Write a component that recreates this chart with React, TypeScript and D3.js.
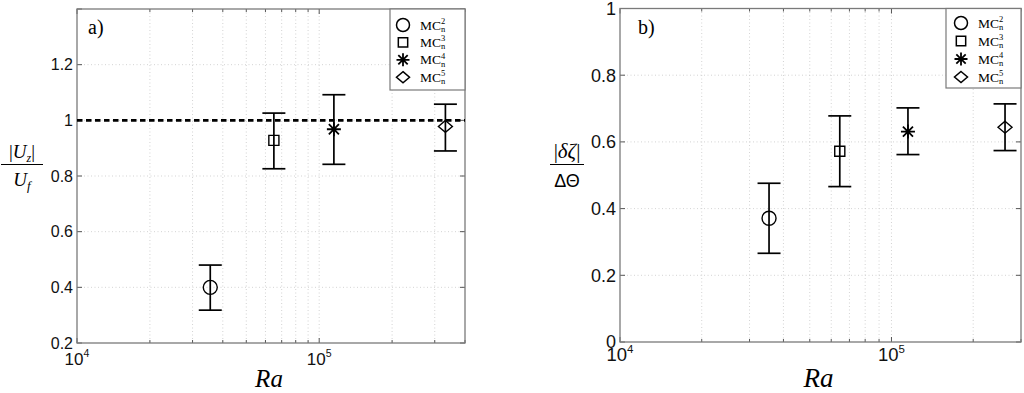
import { useEffect, useRef } from "react";
import * as d3 from "d3";

// shared marker order / legend labels
const markerKinds = ["circle", "square", "star", "diamond"];
const legendExp = ["2", "3", "4", "5"];

// panel a) |Uz|/Uf vs Ra
const raA = [35500, 65000, 115000, 332000];
const uzMean = [0.4, 0.928, 0.968, 0.978];
const uzLow = [0.318, 0.826, 0.842, 0.89];
const uzHigh = [0.48, 1.026, 1.092, 1.058];

// panel b) |dzeta|/dTheta vs Ra
const raB = [35400, 64500, 115000, 262000];
const dzMean = [0.371, 0.572, 0.631, 0.644];
const dzLow = [0.266, 0.466, 0.562, 0.574];
const dzHigh = [0.476, 0.678, 0.702, 0.714];

const yTicksA = [0.2, 0.4, 0.6, 0.8, 1, 1.2, 1.4];
const yTicksB = [0, 0.2, 0.4, 0.6, 0.8, 1];

const SERIF = "'Liberation Serif', 'DejaVu Serif', serif";
const SANS = "'Liberation Sans', Arial, sans-serif";

type Sel = d3.Selection<SVGGElement, unknown, null, undefined>;

function markerPath(kind: string, s: number): string {
  if (kind === "circle") {
    return `M${-s},0A${s},${s} 0 1,0 ${s},0A${s},${s} 0 1,0 ${-s},0Z`;
  }
  if (kind === "square") {
    const h = s * 0.72;
    return `M${-h},${-h}H${h}V${h}H${-h}Z`;
  }
  if (kind === "diamond") {
    const w = s;
    const h = s * 0.85;
    return `M0,${-h}L${w},0L0,${h}L${-w},0Z`;
  }
  // asterisk: plus + cross
  const a = s;
  const d = a * 0.72;
  return `M0,${-a}V${a}M${-a},0H${a}M${-d},${-d}L${d},${d}M${-d},${d}L${d},${-d}`;
}

interface PanelCfg {
  left: number;
  right: number;
  top: number;
  bottom: number;
  xMax: number;
  yDomain: [number, number];
  yTicks: number[];
  tickFont: number;
  xTickFont: number;
  xTickBaseline: number;
  ra: number[];
  mean: number[];
  low: number[];
  high: number[];
  tag: string;
  tagX: number;
  legend: { x0: number; y1: number; mx: number; tx: number; y0: number; dy: number };
  raFont: number;
  dashedOne: boolean;
  hideTopLabel: boolean;
}

function drawPanel(g: Sel, c: PanelCfg) {
  const x = d3.scaleLog().domain([1e4, c.xMax]).range([c.left, c.right]);
  const y = d3.scaleLinear().domain(c.yDomain).range([c.bottom, c.top]);

  const xGrid = x.ticks().filter((t) => t > 1e4 * 1.001 && t < c.xMax * 0.999);
  const xMajor = [1e4, 1e5];

  // grid
  g.append("g")
    .selectAll("line")
    .data(xGrid)
    .join("line")
    .attr("x1", (d) => x(d))
    .attr("x2", (d) => x(d))
    .attr("y1", c.top)
    .attr("y2", c.bottom)
    .attr("stroke", "#c8c8c8")
    .attr("stroke-width", 0.8)
    .attr("stroke-dasharray", "1,2.5");
  g.append("g")
    .selectAll("line")
    .data(c.yTicks.slice(1, -1))
    .join("line")
    .attr("x1", c.left)
    .attr("x2", c.right)
    .attr("y1", (d) => y(d))
    .attr("y2", (d) => y(d))
    .attr("stroke", "#c8c8c8")
    .attr("stroke-width", 0.8)
    .attr("stroke-dasharray", "1,2.5");

  // ticks on all four sides
  const tk = g.append("g").attr("stroke", "#444").attr("stroke-width", 0.9);
  c.yTicks.forEach((v) => {
    tk.append("line").attr("x1", c.left).attr("x2", c.left + 5).attr("y1", y(v)).attr("y2", y(v));
    tk.append("line").attr("x1", c.right).attr("x2", c.right - 5).attr("y1", y(v)).attr("y2", y(v));
  });
  x.ticks().forEach((v) => {
    const len = xMajor.includes(v) ? 5 : 3;
    tk.append("line").attr("x1", x(v)).attr("x2", x(v)).attr("y1", c.bottom).attr("y2", c.bottom - len);
    tk.append("line").attr("x1", x(v)).attr("x2", x(v)).attr("y1", c.top).attr("y2", c.top + len);
  });

  // box
  g.append("rect")
    .attr("x", c.left)
    .attr("y", c.top)
    .attr("width", c.right - c.left)
    .attr("height", c.bottom - c.top)
    .attr("fill", "none")
    .attr("stroke", "#7a7a7a")
    .attr("stroke-width", 1.3);

  // y tick labels
  g.append("g")
    .selectAll("text")
    .data(c.hideTopLabel ? c.yTicks.slice(0, -1) : c.yTicks)
    .join("text")
    .attr("x", c.left - 4)
    .attr("y", (d) => y(d))
    .attr("dy", "0.36em")
    .attr("text-anchor", "end")
    .attr("font-family", SANS)
    .attr("font-size", c.tickFont)
    .attr("fill", "#111")
    .text((d) => String(+d.toFixed(1)));

  // x tick labels 10^n
  xMajor.forEach((v) => {
    const t = g
      .append("text")
      .attr("x", x(v))
      .attr("y", c.xTickBaseline)
      .attr("text-anchor", "middle")
      .attr("font-family", SANS)
      .attr("font-size", c.xTickFont)
      .attr("fill", "#111");
    t.append("tspan").text("10");
    t.append("tspan")
      .attr("dy", -c.xTickFont * 0.45)
      .attr("font-size", c.xTickFont * 0.62)
      .text(String(Math.round(Math.log10(v))));
  });

  // x axis label
  g.append("text")
    .attr("x", (c.left + c.right) / 2 - 2)
    .attr("y", 387)
    .attr("text-anchor", "middle")
    .attr("font-family", SERIF)
    .attr("font-style", "italic")
    .attr("font-size", c.raFont)
    .text("Ra");

  // panel tag
  g.append("text")
    .attr("x", c.tagX)
    .attr("y", 34)
    .attr("font-family", SERIF)
    .attr("font-size", 20)
    .text(c.tag);

  // unity line
  if (c.dashedOne) {
    g.append("line")
      .attr("x1", c.left)
      .attr("x2", c.right)
      .attr("y1", y(1))
      .attr("y2", y(1))
      .attr("stroke", "#000")
      .attr("stroke-width", 2.6)
      .attr("stroke-dasharray", "5.5,3.5");
  }

  // error bars + markers
  const eb = g.append("g").attr("stroke", "#000").attr("fill", "none").attr("stroke-width", 1.7);
  c.ra.forEach((r, i) => {
    const cx = x(r);
    eb.append("line").attr("x1", cx).attr("x2", cx).attr("y1", y(c.low[i])).attr("y2", y(c.high[i]));
    [c.low[i], c.high[i]].forEach((v) => {
      eb.append("line").attr("x1", cx - 11.5).attr("x2", cx + 11.5).attr("y1", y(v)).attr("y2", y(v));
    });
    eb.append("path")
      .attr("transform", `translate(${cx},${y(c.mean[i])})`)
      .attr("d", markerPath(markerKinds[i], 7))
      .attr("stroke-width", markerKinds[i] === "star" ? 1.8 : 1.4);
  });

  // legend
  const L = c.legend;
  const lg = g.append("g");
  lg.append("rect")
    .attr("x", L.x0)
    .attr("y", c.top)
    .attr("width", c.right - L.x0)
    .attr("height", L.y1 - c.top)
    .attr("fill", "#fff")
    .attr("stroke", "#7a7a7a")
    .attr("stroke-width", 1.2);
  markerKinds.forEach((k, i) => {
    const ry = L.y0 + i * L.dy;
    lg.append("path")
      .attr("transform", `translate(${L.mx},${ry})`)
      .attr("d", markerPath(k, 6.5))
      .attr("fill", "none")
      .attr("stroke", "#000")
      .attr("stroke-width", k === "star" ? 1.8 : 1.5);
    lg.append("text")
      .attr("x", L.tx)
      .attr("y", ry + 4.5)
      .attr("font-family", SERIF)
      .attr("font-size", 13.5)
      .text("MC");
    lg.append("text")
      .attr("x", L.tx + 21)
      .attr("y", ry - 1)
      .attr("font-family", SERIF)
      .attr("font-size", 8.5)
      .text(legendExp[i]);
    lg.append("text")
      .attr("x", L.tx + 21)
      .attr("y", ry + 7)
      .attr("font-family", SERIF)
      .attr("font-size", 8.5)
      .text("n");
  });
}

function drawYLabels(g: Sel) {
  // a) |U_z| / U_f
  const na = g.append("text").attr("x", 22).attr("y", 158).attr("text-anchor", "middle").attr("font-family", SERIF).attr("font-size", 19);
  na.append("tspan").text("|");
  na.append("tspan").attr("font-style", "italic").text("U");
  na.append("tspan").attr("font-style", "italic").attr("font-size", 12).attr("dy", 4).text("z");
  na.append("tspan").attr("dy", -4).text("|");
  g.append("line").attr("x1", 1).attr("x2", 43).attr("y1", 164.5).attr("y2", 164.5).attr("stroke", "#000").attr("stroke-width", 1);
  const da = g.append("text").attr("x", 22).attr("y", 186).attr("text-anchor", "middle").attr("font-family", SERIF).attr("font-size", 19);
  da.append("tspan").attr("font-style", "italic").text("U");
  da.append("tspan").attr("font-style", "italic").attr("font-size", 13).attr("dy", 4).text("f");

  // b) |dzeta| / dTheta
  const nb = g.append("text").attr("x", 567).attr("y", 158).attr("text-anchor", "middle").attr("font-family", SERIF).attr("font-size", 21);
  nb.append("tspan").text("|");
  nb.append("tspan").attr("font-style", "italic").text("δζ");
  nb.append("tspan").text("|");
  g.append("line").attr("x1", 550).attr("x2", 584).attr("y1", 164.5).attr("y2", 164.5).attr("stroke", "#000").attr("stroke-width", 1);
  g.append("text").attr("x", 567).attr("y", 186.5).attr("text-anchor", "middle").attr("font-family", SANS).attr("font-size", 18).text("ΔΘ");
}

const panelA: PanelCfg = {
  left: 77, right: 465, top: 9, bottom: 343,
  xMax: 4e5, yDomain: [0.2, 1.4], yTicks: yTicksA,
  tickFont: 16, xTickFont: 17, xTickBaseline: 365,
  ra: raA, mean: uzMean, low: uzLow, high: uzHigh,
  tag: "a)", tagX: 88,
  legend: { x0: 390, y1: 90, mx: 403, tx: 420, y0: 25, dy: 17.4 },
  raFont: 25, dashedOne: true, hideTopLabel: true,
};

const panelB: PanelCfg = {
  left: 620, right: 1021, top: 8.5, bottom: 342,
  xMax: 3e5, yDomain: [0, 1], yTicks: yTicksB,
  tickFont: 18, xTickFont: 18.5, xTickBaseline: 361,
  ra: raB, mean: dzMean, low: dzLow, high: dzHigh,
  tag: "b)", tagX: 638,
  legend: { x0: 946, y1: 88, mx: 961, tx: 978, y0: 23, dy: 18 },
  raFont: 27, dashedOne: false, hideTopLabel: false,
};

export default function App() {
  const ref = useRef<SVGSVGElement | null>(null);

  useEffect(() => {
    if (!ref.current) return;
    const svg = d3.select(ref.current);
    svg.selectAll("*").remove();
    const root = svg.append("g") as unknown as Sel;
    drawPanel(root.append("g") as unknown as Sel, panelA);
    drawPanel(root.append("g") as unknown as Sel, panelB);
    drawYLabels(root);
  }, []);

  return (
    <svg
      ref={ref}
      width={1024}
      height={393}
      style={{ position: "absolute", left: 0, top: 0, background: "#fff" }}
    />
  );
}
